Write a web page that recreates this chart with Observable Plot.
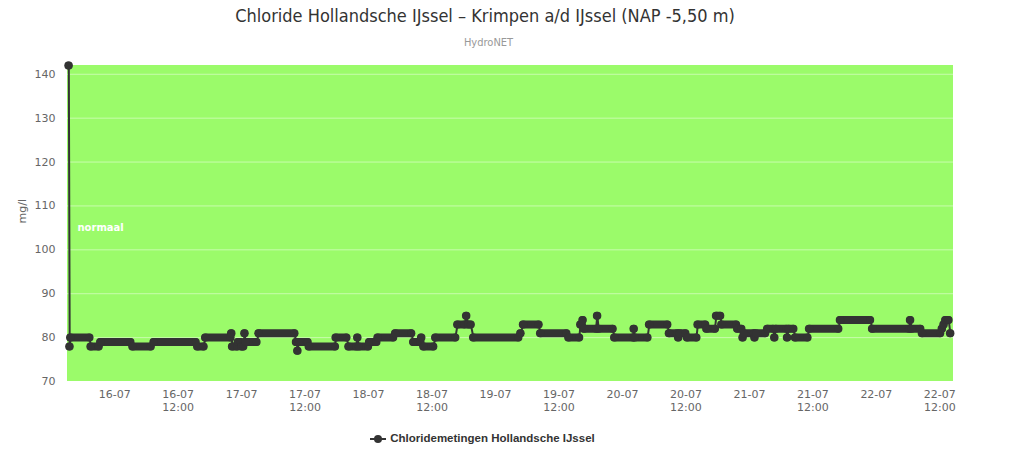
<!DOCTYPE html>
<html>
<head>
<meta charset="utf-8">
<script src="https://cdn.jsdelivr.net/npm/d3@7"></script>
<script src="https://cdn.jsdelivr.net/npm/@observablehq/plot@0.6"></script>
<style>
  html, body { margin: 0; padding: 0; background: #fff; width: 1023px; height: 469px; overflow: hidden; }
  #wrap { position: relative; width: 1023px; height: 469px; }
  #title { position: absolute; left: 0; width: 970px; top: 5px; text-align: center; font-family: "Liberation Sans Narrow", "DejaVu Sans Condensed", sans-serif; font-size: 18px; color: #333; }
  #subtitle { position: absolute; left: 0; width: 977px; top: 36px; text-align: center; font-family: "DejaVu Sans Condensed", sans-serif; font-size: 11px; color: #999; }
  #chart { position: absolute; left: 0; top: 55px; }
  #legend { position: absolute; left: 0; width: 965px; top: 432px; text-align: center; font-family: "Liberation Sans", Arial, sans-serif; font-weight: bold; font-size: 11.5px; color: #333; }
  #legend svg { vertical-align: middle; margin-right: 4px; }
</style>
</head>
<body>
<div id="wrap">
  <div id="title">Chloride Hollandsche IJssel – Krimpen a/d IJssel (NAP -5,50 m)</div>
  <div id="subtitle">HydroNET</div>
  <div id="chart"></div>
  <div id="legend"><svg width="16" height="10"><line x1="0" y1="5" x2="16" y2="5" stroke="#333" stroke-width="2"/><circle cx="8" cy="5" r="4" fill="#333"/></svg>Chloridemetingen Hollandsche IJssel</div>
</div>
<script>
// Step segments of the measurements (day hh:mm in July), start, end, value (mg/l)
const segStart = ["15 15:20","15 15:30","15 15:40","15 19:30","15 21:20","16 03:25","16 07:25","16 15:40","16 17:10","16 22:05","16 22:15","16 23:20","17 00:00","17 00:35","17 00:45","17 03:15","17 10:20","17 10:35","17 10:50","17 12:45","17 17:50","17 20:15","17 21:55","17 22:10","18 00:10","18 01:45","18 05:05","18 08:30","18 10:00","18 10:25","18 12:40","18 16:50","18 18:30","18 18:50","18 19:50","19 04:45","19 05:15","19 08:30","19 13:50","19 16:05","19 16:30","19 16:45","19 19:15","19 19:30","19 22:30","20 02:10","20 02:20","20 05:05","20 08:50","20 10:35","20 10:50","20 12:15","20 14:15","20 15:55","20 17:45","20 18:45","20 21:45","20 22:45","20 23:00","21 01:00","21 01:15","21 03:25","21 04:45","21 05:00","21 07:10","21 07:25","21 08:40","21 11:20","21 17:10","21 23:15","22 06:25","22 06:40","22 08:40","22 12:25","22 12:45","22 13:05","22 14:00"];
const segEnd   = ["15 15:20","15 15:30","15 19:15","15 21:00","16 03:00","16 06:50","16 15:20","16 16:50","16 21:55","16 22:05","16 23:10","16 23:50","17 00:20","17 00:35","17 02:50","17 10:00","17 10:25","17 10:35","17 12:30","17 17:40","17 19:50","17 21:40","17 21:55","17 23:55","18 01:30","18 04:40","18 08:05","18 09:50","18 10:00","18 12:15","18 16:25","18 18:10","18 18:30","18 19:20","19 04:20","19 04:45","19 08:10","19 13:25","19 15:50","19 16:20","19 16:30","19 19:00","19 19:15","19 22:10","20 02:00","20 02:10","20 04:45","20 08:30","20 10:20","20 10:35","20 11:55","20 14:00","20 15:40","20 17:30","20 18:30","20 21:30","20 22:30","20 22:45","21 00:50","21 01:00","21 03:00","21 04:30","21 04:45","21 07:00","21 07:10","21 08:20","21 11:00","21 16:50","21 22:50","22 06:10","22 06:25","22 08:20","22 12:05","22 12:25","22 12:45","22 13:40","22 14:00"];
const segValue = [142,78,80,78,79,78,79,78,80,81,78,79,78,81,79,81,79,77,79,78,80,78,80,78,79,80,81,79,80,78,80,83,85,83,80,81,83,81,80,83,84,82,85,82,80,82,80,83,81,80,81,80,83,82,85,83,82,80,81,80,81,82,80,82,80,82,80,82,84,82,84,82,81,82,83,84,81];

const yTicks = [70, 80, 90, 100, 110, 120, 130, 140];
const bandFrom = 70, bandTo = 142, bandLabel = "normaal", bandLabelValue = 105;
const seriesName = "Chloridemetingen Hollandsche IJssel";
const yLabel = "mg/l";

const parse = s => { const [d, hm] = s.split(" "); return new Date(`2022-07-${d}T${hm}:00Z`); };
const segs = segStart.map((s, i) => ({t1: parse(s), t2: parse(segEnd[i]), v: segValue[i]}));
const pts = [];
segs.forEach(s => { pts.push({t: s.t1, v: s.v}); if (+s.t2 !== +s.t1) pts.push({t: s.t2, v: s.v}); });

const xDomain = [new Date("2022-07-15T15:05:00Z"), new Date("2022-07-22T14:35:00Z")];
const xTicks = d3.utcHour.every(12).range(new Date("2022-07-16T00:00:00Z"), new Date("2022-07-22T13:00:00Z"));
const fmtDay = d3.utcFormat("%d-%m");
const xFmt = d => d.getUTCHours() === 0 ? fmtDay(d) : fmtDay(d) + "\n" + d3.utcFormat("%H:%M")(d);

const chart = Plot.plot({
  width: 1023,
  height: 380,
  marginLeft: 67,
  marginRight: 70,
  marginTop: 10,
  marginBottom: 54,
  style: {fontFamily: "DejaVu Sans, sans-serif", fontSize: "11px", color: "#666", background: "transparent"},
  x: {type: "utc", domain: xDomain},
  y: {domain: [70, 142]},
  marks: [
    Plot.rect([{from: bandFrom, to: bandTo}], {x1: () => xDomain[0], x2: () => xDomain[1], y1: "from", y2: "to", fill: "#9bfb6a"}),
    Plot.gridY(yTicks.slice(1), {stroke: "#ffffff", strokeOpacity: 0.45, strokeWidth: 1}),
    Plot.text([{label: bandLabel, y: bandLabelValue}], {x: () => xDomain[0], y: "y", text: "label", dx: 10, textAnchor: "start", fill: "#ffffff", fontWeight: "bold", fontSize: 10}),
    Plot.axisY(yTicks, {tickSize: 0, tickPadding: 12, label: null, fill: "#666", fontSize: 11}),
    Plot.text([yLabel], {frameAnchor: "left", text: d => d, rotate: -90, dx: -45, fill: "#666", fontSize: 11}),
    Plot.axisX(xTicks, {tickSize: 0, tickPadding: 8, tickFormat: xFmt, label: null, fill: "#666", fontSize: 11, lineHeight: 1.15}),
    Plot.line(pts, {x: "t", y: "v", stroke: "#333", strokeWidth: 2}),
    Plot.ruleY(segs, {y: "v", x1: "t1", x2: "t2", stroke: "#333", strokeWidth: 8, strokeLinecap: "round"}),
    Plot.dot(pts, {x: "t", y: "v", r: 4, fill: "#333"})
  ]
});
document.getElementById("chart").appendChild(chart);
</script>
</body>
</html>
